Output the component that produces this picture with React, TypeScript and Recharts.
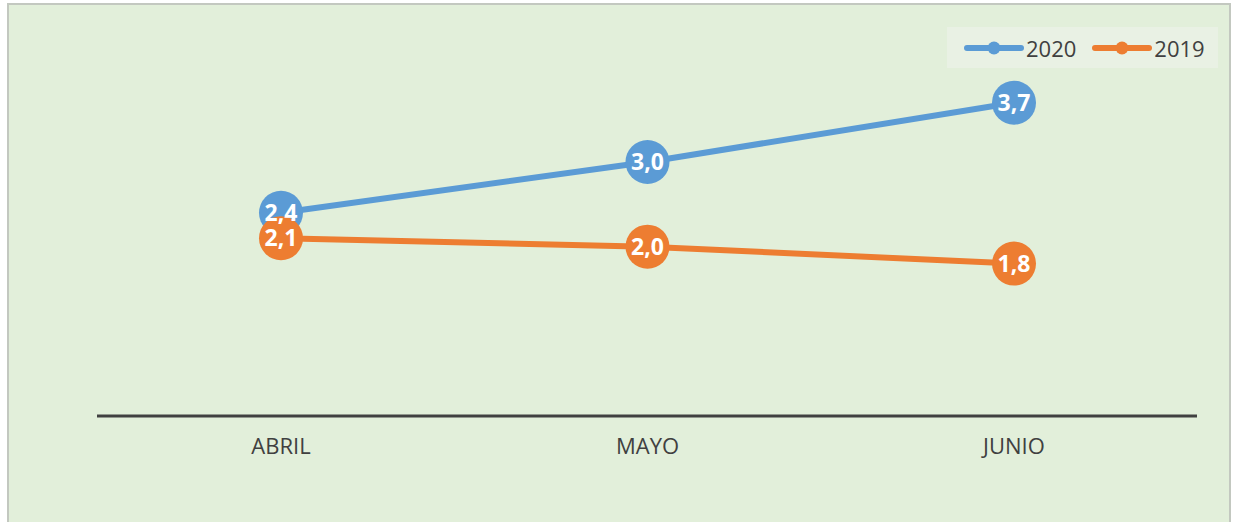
import { LabelList, Line, LineChart, XAxis, YAxis } from "recharts";

const months = ["ABRIL", "MAYO", "JUNIO"];
const values2020 = [2.4, 3.0, 3.7];
const values2019 = [2.1, 2.0, 1.8];

const series = [
  { key: "y2020", name: "2020", color: "#5b9bd5" },
  { key: "y2019", name: "2019", color: "#ed7d31" },
];

const data = months.map((month, i) => ({
  month,
  y2020: values2020[i],
  y2019: values2019[i],
}));

const font = '"Open Sans", "Noto Sans", sans-serif';
const fmt = (v: number) => v.toFixed(1).replace(".", ",");

function ValueLabel(props: any) {
  const { x, y, value } = props;
  return (
    <text
      x={x}
      y={y}
      dy={8}
      textAnchor="middle"
      fill="#ffffff"
      fontSize={23}
      fontWeight={700}
      fontFamily={font}
    >
      {fmt(value)}
    </text>
  );
}

function MonthTick(props: any) {
  const { x, y, payload } = props;
  return (
    <text x={x} y={y + 36} textAnchor="middle" fill="#404040" fontSize={22} fontFamily={font}>
      {payload.value}
    </text>
  );
}

function ChartLegend() {
  return (
    <div
      style={{
        position: "absolute",
        left: 947,
        top: 27,
        width: 271,
        height: 41,
        display: "flex",
        alignItems: "center",
        gap: 16,
        background: "#e9f1e4",
        boxSizing: "border-box",
        paddingLeft: 17,
        fontFamily: font,
        fontSize: 22,
        color: "#404040",
      }}
    >
      {series.map((s) => (
        <div key={s.key} style={{ display: "flex", alignItems: "center", gap: 2 }}>
          <svg width={60} height={14}>
            <line x1={3} y1={7} x2={57} y2={7} stroke={s.color} strokeWidth={6} strokeLinecap="round" />
            <circle cx={30} cy={7} r={6.5} fill={s.color} />
          </svg>
          <span>{s.name}</span>
        </div>
      ))}
    </div>
  );
}

export default function App() {
  return (
    <div style={{ position: "absolute", left: 0, top: 0, width: 1235, height: 522, background: "#ffffff", overflow: "hidden" }}>
      <div
        style={{
          position: "absolute",
          left: 7,
          top: 3,
          width: 1220,
          height: 540,
          background: "#e2efda",
          border: "2px solid #c3c8c0",
        }}
      />
      <div style={{ position: "absolute", left: 0, top: 0 }}>
        <LineChart
          width={1235}
          height={522}
          data={data}
          margin={{ top: 35, right: 38, bottom: 46, left: 97 }}
        >
          <XAxis
            dataKey="month"
            padding={{ left: 184, right: 183 }}
            axisLine={{ stroke: "#404040", strokeWidth: 3 }}
            tickLine={false}
            tickSize={0}
            height={60}
            tick={<MonthTick />}
            interval={0}
          />
          <YAxis hide domain={[0, 4.5]} />
          {series.map((s) => (
            <Line
              key={s.key}
              dataKey={s.key}
              name={s.name}
              stroke={s.color}
              strokeWidth={6}
              strokeLinecap="round"
              dot={{ r: 22, fill: s.color, stroke: "none" }}
              activeDot={false}
              isAnimationActive={false}
            />
          ))}
          {series.map((s) => (
            <Line
              key={s.key + "-labels"}
              dataKey={s.key}
              stroke="none"
              dot={false}
              activeDot={false}
              legendType="none"
              isAnimationActive={false}
            >
              <LabelList dataKey={s.key} content={<ValueLabel />} />
            </Line>
          ))}
        </LineChart>
      </div>
      <ChartLegend />
    </div>
  );
}
